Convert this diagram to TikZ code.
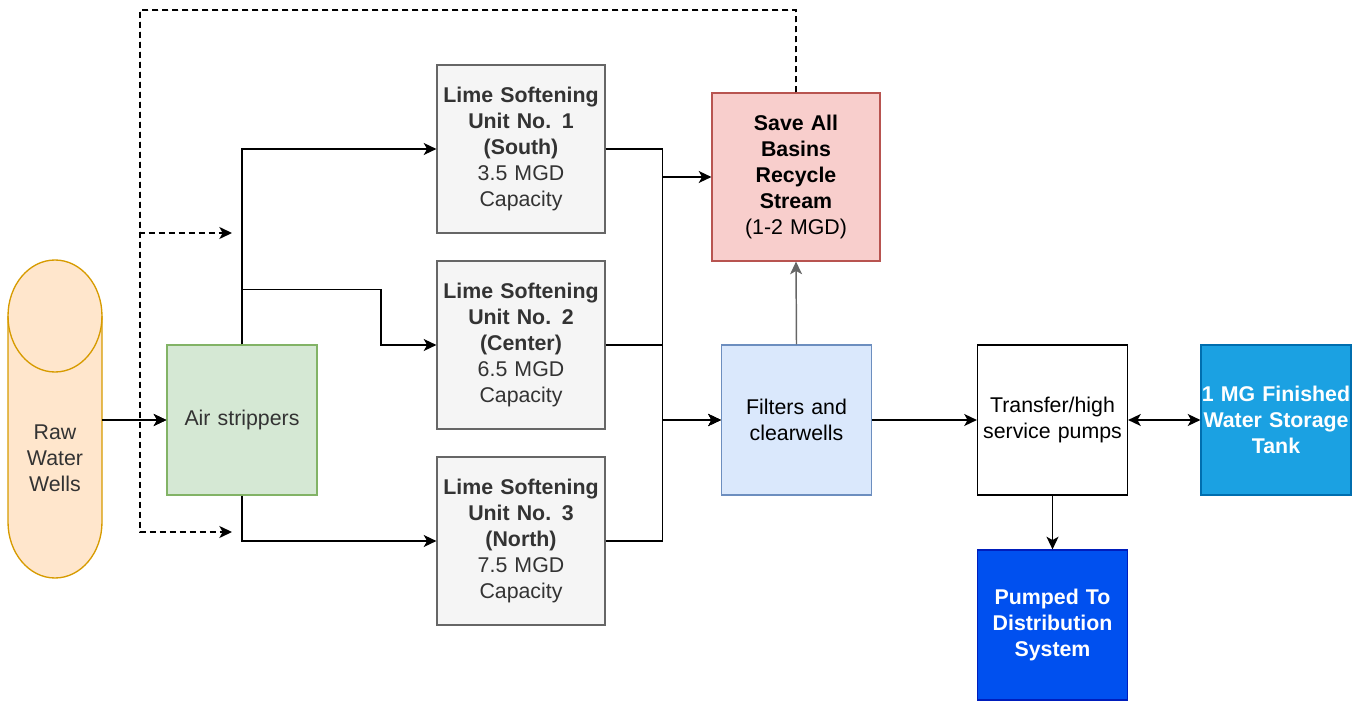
\documentclass[tikz,border=0pt]{standalone}
\usepackage{fontspec}
\setmainfont{Liberation Sans}
\usetikzlibrary{arrows.meta}
\definecolor{peachfill}{HTML}{FFE6CC}
\definecolor{peachline}{HTML}{D79B00}
\definecolor{greenfill}{HTML}{D5E8D4}
\definecolor{greenline}{HTML}{82B366}
\definecolor{greyfill}{HTML}{F5F5F5}
\definecolor{greyline}{HTML}{666666}
\definecolor{greytext}{HTML}{333333}
\definecolor{redfill}{HTML}{F8CECC}
\definecolor{redline}{HTML}{B85450}
\definecolor{bluefill}{HTML}{DAE8FC}
\definecolor{blueline}{HTML}{6C8EBF}
\definecolor{tankfill}{HTML}{1BA1E2}
\definecolor{tankline}{HTML}{006EAF}
\definecolor{distfill}{HTML}{0050EF}
\definecolor{distline}{HTML}{001DBC}
\tikzset{headtip/.tip={Stealth[length=9.5pt,width=9pt,inset=2.5pt]}}
\begin{document}
\begin{tikzpicture}[x=0.75pt,y=-0.75pt,
  font=\fontsize{16}{19.5}\selectfont,
  box/.style={draw, line width=0.9pt, inner sep=0pt, align=center},
  sq/.style={box, text width=112.5pt, minimum height=112.5pt},
  tall/.style={box, text width=126pt, minimum height=126pt},
  limebox/.style={tall, fill=greyfill, draw=greyline, text=greytext},
  arr/.style={line width=1.1pt, -headtip},
  darr/.style={line width=1.1pt, headtip-headtip},
  dasharr/.style={arr, dash pattern=on 4.5pt off 3pt}]
\useasboundingbox (0,0) rectangle (1367,702);

% Raw water wells cylinder
\fill[peachfill] (8,316) .. controls (8,285.1) and (29,260) .. (55,260)
  .. controls (81,260) and (102,285.1) .. (102,316) -- (102,522)
  .. controls (102,552.9) and (81,578) .. (55,578)
  .. controls (29,578) and (8,552.9) .. (8,522) -- cycle;
\draw[peachline, line width=1pt] (8,316) .. controls (8,285.1) and (29,260) .. (55,260)
  .. controls (81,260) and (102,285.1) .. (102,316) -- (102,522)
  .. controls (102,552.9) and (81,578) .. (55,578)
  .. controls (29,578) and (8,552.9) .. (8,522) -- cycle;
\draw[peachline, line width=1pt] (8,316) .. controls (8,346.9) and (29,372) .. (55,372)
  .. controls (81,372) and (102,346.9) .. (102,316);
\node[inner sep=0pt, minimum width=70.5pt, minimum height=240pt] (raw) at (55,420) {};
\node[align=center, text=greytext, inner sep=0pt] (rawtxt) at (55,458) {Raw\\Water\\Wells};

% Boxes
\node[sq, fill=greenfill, draw=greenline, text=greytext] (air) at (242,420) {Air strippers};
\node[limebox] (lime1) at (521,149) {\textbf{Lime Softening}\\\textbf{Unit No. 1}\\\textbf{(South)}\\3.5 MGD\\Capacity};
\node[limebox] (lime2) at (521,345) {\textbf{Lime Softening}\\\textbf{Unit No. 2}\\\textbf{(Center)}\\6.5 MGD\\Capacity};
\node[limebox] (lime3) at (521,541) {\textbf{Lime Softening}\\\textbf{Unit No. 3}\\\textbf{(North)}\\7.5 MGD\\Capacity};
\node[tall, fill=redfill, draw=redline] (save) at (796,177) {\textbf{Save All}\\\textbf{Basins}\\\textbf{Recycle}\\\textbf{Stream}\\(1-2 MGD)};
\node[sq, fill=bluefill, draw=blueline] (filt) at (796.5,420) {Filters and\\clearwells};
\node[sq, fill=white, draw=black] (pump) at (1052.5,420) {Transfer/high\\service pumps};
\node[sq, fill=tankfill, draw=tankline, text=white] (tank) at (1276,420) {\textbf{1 MG Finished}\\\textbf{Water Storage}\\\textbf{Tank}};
\node[sq, fill=distfill, draw=distline, text=white] (dist) at (1052.5,625) {\textbf{Pumped To}\\\textbf{Distribution}\\\textbf{System}};

% Dashed recycle lines
\coordinate (dc) at (140,10);
\coordinate (d1) at (232,233);
\coordinate (d2) at (232,532);
\draw[dasharr] (save.north) |- (dc) |- (d1);
\draw[dasharr] (save.north) |- (dc) |- (d2);
\draw[dasharr] (save.north) |- (dc) |- (air.west);

% Solid connectors
\draw[arr] (raw.east) -- (air.west);
\draw[arr] (air.north) |- (lime1.west);
\draw[arr] (air.north) -- ++(0,-55) -- ++(139,0) |- (lime2.west);
\draw[arr] (air.south) |- (lime3.west);
\draw[arr] (lime1.east) -- ++(57,0) |- (save.west);
\draw[arr] (lime1.east) -- ++(57,0) |- (filt.west);
\draw[arr] (lime2.east) -- ++(57,0) |- (filt.west);
\draw[arr] (lime3.east) -- ++(57,0) |- (filt.west);
\draw[arr, greyline] (filt.north) -- (save.south);
\draw[arr] (filt.east) -- (pump.west);
\draw[darr] (pump.east) -- (tank.west);
\draw[arr] (pump.south) -- (dist.north);
\end{tikzpicture}
\end{document}
